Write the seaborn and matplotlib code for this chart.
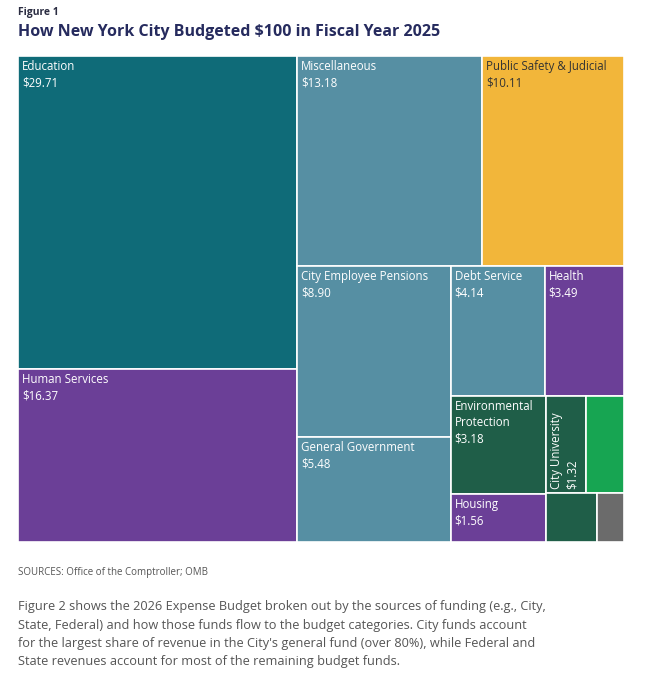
import matplotlib.pyplot as plt
import seaborn as sns
from matplotlib.patches import Rectangle

sns.set_theme(style="white")
plt.rcParams['font.family'] = ['Open Sans', 'DejaVu Sans']

names = ['Education', 'Human Services', 'Miscellaneous', 'Public Safety & Judicial',
         'City Employee Pensions', 'General Government', 'Debt Service', 'Health',
         'Environmental\nProtection', 'Housing', 'City University', 'Other A',
         'Other B', 'Other C']
values = [29.71, 16.37, 13.18, 10.11, 8.90, 5.48, 4.14, 3.49, 3.18, 1.56, 1.32, 1.27, 0.84, 0.45]
colors = ['#0f6b78', '#6b3f97', '#568fa3', '#f2b63a', '#568fa3', '#568fa3', '#568fa3',
          '#6b3f97', '#1f5e48', '#6b3f97', '#1f5e48', '#17a552', '#1f5e48', '#6b6b6b']
shown = [True] * 11 + [False] * 3

# slice-and-dice layout tree: (orientation, children) ; leaves are indices
tree = ('h', [('v', [0, 1]),
              ('v', [('h', [2, 3]),
                     ('h', [('v', [4, 5]),
                            ('v', [('h', [6, 7]),
                                   ('h', [('v', [8, 9]),
                                          ('v', [('h', [10, 11]), ('h', [12, 13])])])])])])])

def total(node):
    if isinstance(node, int):
        return values[node]
    return sum(total(c) for c in node[1])

rects = {}
def layout(node, x, y, w, h):
    if isinstance(node, int):
        rects[node] = (x, y, w, h)
        return
    o, kids = node
    t = total(node)
    for k in kids:
        f = total(k) / t
        if o == 'h':
            layout(k, x, y, w * f, h); x += w * f
        else:
            layout(k, x, y, w, h * f); y += h * f

layout(tree, 0, 0, 606, 486)

fig = plt.figure(figsize=(6.45, 6.8), dpi=100)
ax = fig.add_axes([18 / 645, 1 - 542 / 680, 606 / 645, 486 / 680])
ax.set_xlim(0, 606)
ax.set_ylim(486, 0)
ax.axis('off')

for i, (x, y, w, h) in rects.items():
    ax.add_patch(Rectangle((x, y), w, h, facecolor=colors[i], edgecolor='white', lw=1.2))
    if not shown[i]:
        continue
    tc = '#333333' if colors[i] == '#f2b63a' else 'white'
    label = f"{names[i]}\n${values[i]:.2f}"
    if names[i] == 'City University':
        ax.text(x + 4, y + h - 4, label, rotation=90, color=tc, fontsize=8.3,
                va='bottom', ha='left', linespacing=1.3)
    else:
        ax.text(x + 4, y + 4, label, color=tc, fontsize=8.3, va='top', ha='left',
                linespacing=1.35)

fig.text(18 / 645, 1 - 12 / 680, 'Figure 1', fontsize=7.5, fontweight='bold', color='#2b2d42', va='center')
fig.text(18 / 645, 1 - 32 / 680, 'How New York City Budgeted $100 in Fiscal Year 2025',
         fontsize=11.5, fontweight='bold', color='#262b5e', va='center')
fig.text(18 / 645, 1 - 572 / 680, 'SOURCES: Office of the Comptroller; OMB', fontsize=7,
         color='#555555', va='center')
fig.text(18 / 645, 1 - 600 / 680,
         "Figure 2 shows the 2026 Expense Budget broken out by the sources of funding (e.g., City,\n"
         "State, Federal) and how those funds flow to the budget categories. City funds account\n"
         "for the largest share of revenue in the City's general fund (over 80%), while Federal and\n"
         "State revenues account for most of the remaining budget funds.",
         fontsize=9.2, color='#555555', va='top', linespacing=1.55)

fig.savefig('out.png', dpi=100)
